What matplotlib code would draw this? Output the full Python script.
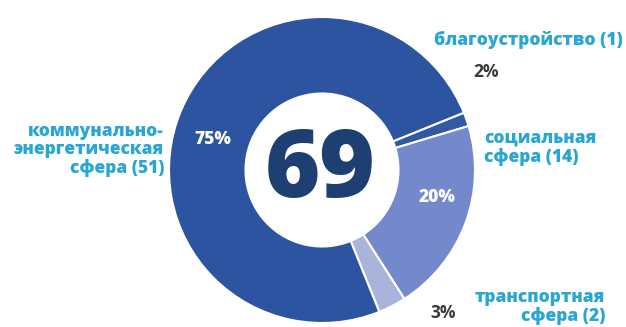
import matplotlib.pyplot as plt

# slices, clockwise from the upper right
labels = ["благоустройство (1)", "социальная\nсфера (14)", "транспортная\nсфера (2)",
          "коммунально-\nэнергетическая\nсфера (51)"]
counts = [1, 14, 2, 51]
pcts = ["2%", "20%", "3%", "75%"]
total = "69"
colors = ["#3159a6", "#7489cc", "#a9b4da", "#2d54a0"]

plt.rcParams['font.family'] = ['Open Sans', 'DejaVu Sans']

fig = plt.figure(figsize=(6.26, 3.27), dpi=100)
ax = fig.add_axes([0, 0, 1, 1])

cx, cy, r = 322, 157, 153
ax.pie(counts, colors=colors, startangle=22, counterclock=False,
       center=(cx, cy), radius=r, frame=True,
       wedgeprops=dict(width=r * 0.5, edgecolor='white', linewidth=1.5))
ax.set_xlim(0, 626)
ax.set_ylim(0, 327)
ax.set_aspect('equal')
ax.axis('off')

ax.text(cx - 2, cy - 3, total, ha='center', va='center', fontsize=68,
        fontweight='heavy', color='#1d3f72')

lab_c = '#2aa6d6'
fs = 12.5
ax.text(623, 327 - 40, labels[0], ha='right', va='center', fontsize=fs,
        fontweight='heavy', color=lab_c)
ax.text(484, 327 - 148, labels[1], ha='left', va='center', fontsize=fs,
        fontweight='heavy', color=lab_c, linespacing=1.1)
ax.text(605, 327 - 307, labels[2], ha='right', va='center', fontsize=fs,
        fontweight='heavy', color=lab_c, linespacing=1.1)
ax.text(164, 327 - 150, labels[3], ha='right', va='center', fontsize=fs,
        fontweight='heavy', color=lab_c, linespacing=1.05)

ax.text(486, 327 - 72, pcts[0], ha='center', va='center', fontsize=12.5,
        fontweight='bold', color='#3a3a3a')
ax.text(437, 327 - 197, pcts[1], ha='center', va='center', fontsize=fs,
        fontweight='heavy', color='white')
ax.text(443, 327 - 313, pcts[2], ha='center', va='center', fontsize=12.5,
        fontweight='bold', color='#3a3a3a')
ax.text(213, 327 - 139, pcts[3], ha='center', va='center', fontsize=fs,
        fontweight='heavy', color='white')

fig.savefig('out.png', dpi=100)
